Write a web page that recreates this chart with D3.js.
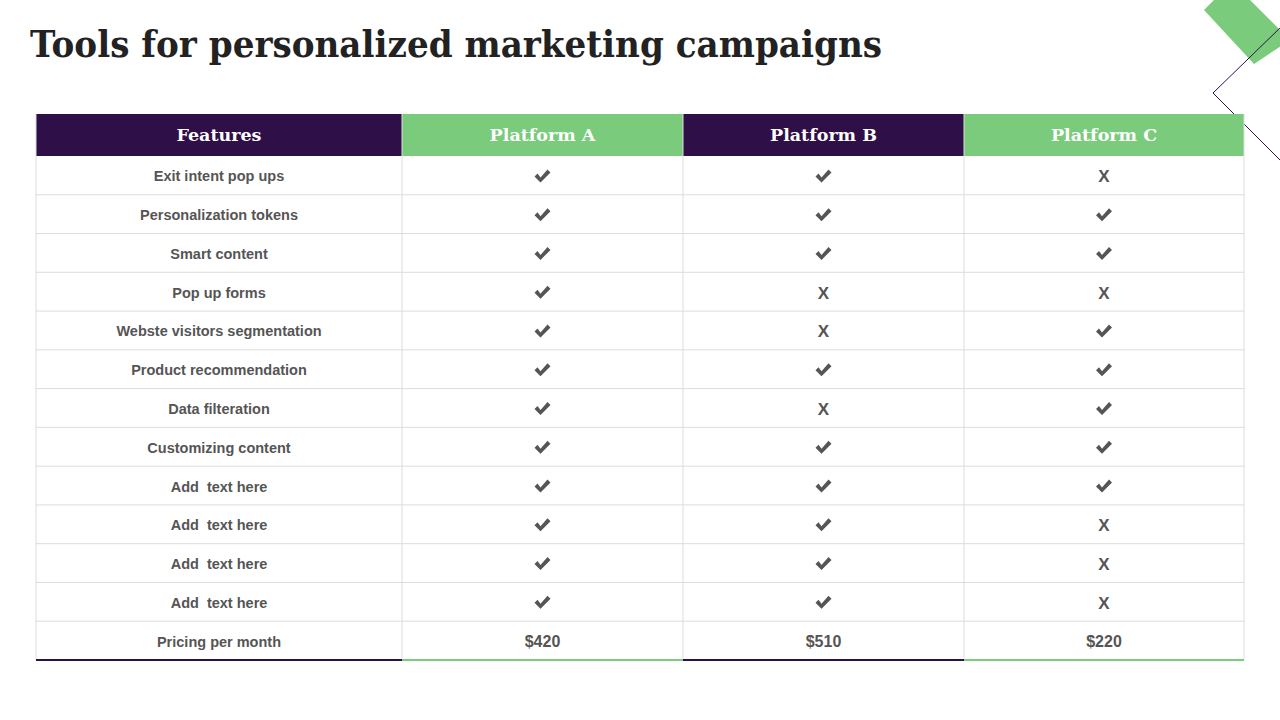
<!DOCTYPE html>
<html><head><meta charset="utf-8">
<script src="https://cdn.jsdelivr.net/npm/d3@7"></script>
<style>body{margin:0;background:#fff} text{white-space:pre}</style></head>
<body><svg id="c" width="1280" height="720"></svg>
<script>
const columns = ["Features","Platform A","Platform B","Platform C"];
const features = ["Exit intent pop ups","Personalization tokens","Smart content","Pop up forms","Webste visitors segmentation","Product recommendation","Data filteration","Customizing content","Add  text here","Add  text here","Add  text here","Add  text here","Pricing per month"];
const platformA = ["y","y","y","y","y","y","y","y","y","y","y","y","$420"];
const platformB = ["y","y","y","x","x","y","x","y","y","y","y","y","$510"];
const platformC = ["x","y","y","x","y","y","y","y","y","x","x","x","$220"];
const headerColors = ["#2f0f47","#7acb7c","#2f0f47","#7acb7c"];

const svg = d3.select("#c");
const green="#7acb7c", purple="#2f0f47";
svg.append("polygon").attr("points","1204,10 1232,-18 1290,40 1254,64").attr("fill",green);
svg.append("polyline").attr("points","1282,26 1213,93 1282,162").attr("fill","none").attr("stroke",purple).attr("stroke-width",1);

svg.append("text").attr("x",30).attr("y",57).text("Tools for personalized marketing campaigns")
 .attr("font-family","Georgia, 'DejaVu Serif', serif").attr("font-weight","bold").attr("font-size",37).attr("fill","#222")
 .attr("textLength",852).attr("lengthAdjust","spacingAndGlyphs");

const colEdges=[36,402,683,964,1244];
const x = i=>colEdges[i], w=i=>colEdges[i+1]-colEdges[i];
const y = d3.scaleBand().domain(d3.range(features.length)).range([156,660]);
const cols=[features,platformA,platformB,platformC];

columns.forEach((c,i)=>{
  svg.append("rect").attr("x",x(i)).attr("y",114).attr("width",w(i)).attr("height",42).attr("fill",headerColors[i]);
  svg.append("text").attr("x",x(i)+w(i)/2).attr("y",141).attr("text-anchor","middle").text(c)
   .attr("font-family","Georgia, 'DejaVu Serif', serif").attr("font-weight","bold").attr("font-size",17.5).attr("fill","#fff");
});
const g=svg.append("g").attr("stroke","#dcdcdc").attr("stroke-width",1);
features.forEach((f,r)=>{ if(r>0) g.append("line").attr("x1",36).attr("x2",1244).attr("y1",y(r)).attr("y2",y(r)); });
colEdges.forEach(e=>g.append("line").attr("x1",e).attr("x2",e).attr("y1",114).attr("y2",660));
columns.forEach((c,i)=>svg.append("line").attr("x1",x(i)).attr("x2",x(i)+w(i)).attr("y1",660).attr("y2",660)
  .attr("stroke",headerColors[i]).attr("stroke-width",2));

const check=(cx,cy)=>svg.append("path").attr("d",`M${cx-8},${cy} L${cx-5},${cy-3} L${cx-2},${cy+1} L${cx+5},${cy-7} L${cx+8},${cy-4} L${cx-2},${cy+6} Z`).attr("fill","#555");
cols.forEach((arr,i)=>arr.forEach((v,r)=>{
  const cx=x(i)+w(i)/2, cy=y(r)+y.bandwidth()/2;
  if(i>0 && v==="y") check(cx,cy+1);
  else svg.append("text").attr("x",cx).attr("y",cy+(v==="x"?7:6)).attr("text-anchor","middle").text(v==="x"?"X":v)
   .attr("font-family","'Liberation Sans', Arial, sans-serif").attr("font-weight","bold")
   .attr("font-size",i>0&&v!=="x"?16:(v==="x"?17:14.5)).attr("fill","#555");
}));
</script></body></html>
